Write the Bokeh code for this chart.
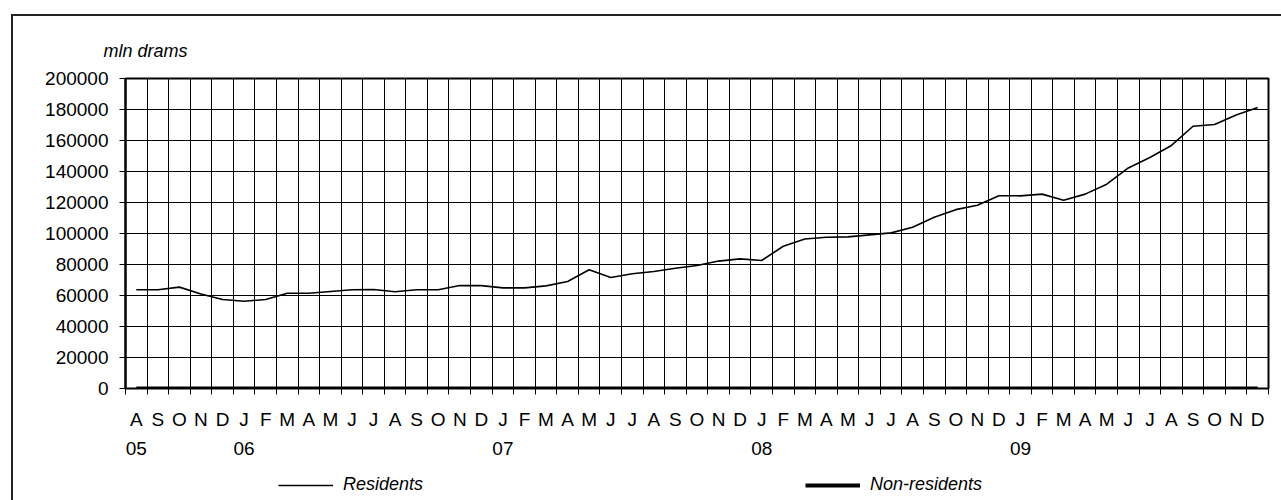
from bokeh.plotting import figure
from bokeh.layouts import column
from bokeh.models import (Range1d, FixedTicker, LinearAxis, Legend, LegendItem,
                          Title, Grid, PrintfTickFormatter)
from bokeh.embed import file_html
from bokeh.resources import INLINE

# ---- data ----
months = ["A", "S", "O", "N", "D",
          "J", "F", "M", "A", "M", "J", "J", "A", "S", "O", "N", "D",
          "J", "F", "M", "A", "M", "J", "J", "A", "S", "O", "N", "D",
          "J", "F", "M", "A", "M", "J", "J", "A", "S", "O", "N", "D",
          "J", "F", "M", "A", "M", "J", "J", "A", "S", "O", "N", "D"]
year_labels = ["05", "06", "07", "08", "09"]
year_start_index = [0, 5, 17, 29, 41]

residents = [63700, 63700, 65400, 61000, 57400,
             56300, 57400, 61500, 61500, 62600, 63700, 63900, 62400, 63700, 63700, 66400, 66400,
             64900, 64900, 66200, 69000, 76600, 71600, 74000, 75500, 77600, 79400, 82200, 83600,
             82600, 91800, 96500, 97600, 97800, 99100, 100400, 104000, 110500, 115400, 118200, 124400,
             124300, 125400, 121500, 125400, 131800, 142300, 149000, 156800, 169200, 170300, 176500, 181300]
non_residents = [0, 0, 0, 0, 0,
                 0, 0, 0, 0, 0, 0, 0, 0, 0, 0, 0, 0,
                 0, 0, 0, 0, 0, 0, 0, 0, 0, 0, 0, 0,
                 0, 0, 0, 0, 0, 0, 0, 0, 0, 0, 0, 0,
                 0, 0, 0, 0, 0, 0, 0, 0, 0, 0, 0, 0]
y_ticks = [0, 20000, 40000, 60000, 80000, 100000, 120000, 140000, 160000, 180000, 200000]
series_names = ["Residents", "Non-residents"]

n = len(months)
xs = [i + 0.5 for i in range(n)]

FONT = "Liberation Sans"
TICK_FS = "19px"
RES_STYLE = dict(line_color="black", line_width=1.6)
NONRES_STYLE = dict(line_color="black", line_width=4)

p = figure(width=1268, height=444, output_backend="svg", toolbar_location=None,
           x_range=Range1d(0, n), y_range=Range1d(0, 200000),
           min_border_left=112, min_border_right=13, min_border_top=62, min_border_bottom=72,
           x_axis_type=None, y_axis_type=None)
p.background_fill_color = "white"
p.border_fill_color = "white"
p.outline_line_color = "black"
p.outline_line_width = 2

# y axis
yax = LinearAxis(ticker=FixedTicker(ticks=y_ticks), formatter=PrintfTickFormatter(format="%d"))
yax.major_tick_out = 6
yax.major_tick_in = 0
yax.minor_tick_out = 0
yax.axis_line_width = 2
yax.axis_line_color = "black"
yax.major_tick_line_color = "black"
yax.major_label_standoff = 11
yax.major_label_text_font = FONT
yax.major_label_text_font_size = TICK_FS
yax.major_label_text_color = "black"
p.add_layout(yax, "left")

# month axis: labels at category centres, tick marks at boundaries
mticker = FixedTicker(ticks=xs, minor_ticks=list(range(n + 1)))
max_ = LinearAxis(ticker=mticker)
max_.major_label_overrides = {x: m for x, m in zip(xs, months)}
max_.major_tick_out = 0
max_.major_tick_in = 0
max_.minor_tick_out = 6
max_.minor_tick_in = 0
max_.minor_tick_line_color = "black"
max_.axis_line_color = "black"
max_.major_label_standoff = 14
max_.major_label_text_font = FONT
max_.major_label_text_font_size = TICK_FS
max_.major_label_text_color = "black"
p.add_layout(max_, "below")

# year axis
yticks = [xs[i] for i in year_start_index]
yrax = LinearAxis(ticker=FixedTicker(ticks=yticks))
yrax.major_label_overrides = {x: y for x, y in zip(yticks, year_labels)}
yrax.axis_line_color = None
yrax.major_tick_line_color = None
yrax.minor_tick_line_color = None
yrax.major_label_standoff = 3
yrax.major_label_text_font = FONT
yrax.major_label_text_font_size = TICK_FS
yrax.major_label_text_color = "black"
p.add_layout(yrax, "below")

# grids
p.add_layout(Grid(dimension=0, ticker=FixedTicker(ticks=list(range(n + 1))),
                  grid_line_color="black", grid_line_width=1))
p.add_layout(Grid(dimension=1, ticker=FixedTicker(ticks=y_ticks),
                  grid_line_color="black", grid_line_width=1))

p.line(xs, residents, **RES_STYLE)
p.line(xs, non_residents, **NONRES_STYLE)

# title
p.add_layout(Title(text="mln drams", text_font=FONT, text_font_size="18px",
                   text_font_style="italic", text_color="black", align="left",
                   offset=-22, standoff=35), "above")

# legend strip (separate small figure so the legend is not clipped);
# the series are drawn there too, but fall outside its visible range
lg = figure(width=1268, height=40, output_backend="svg", toolbar_location=None,
            x_range=Range1d(0, 1), y_range=Range1d(-2, -1),
            min_border_left=0, min_border_right=0, min_border_top=0, min_border_bottom=0,
            x_axis_type=None, y_axis_type=None)
lg.outline_line_color = None
lg.background_fill_color = "white"
lg.border_fill_color = "white"
lr1 = lg.line(xs, residents, **RES_STYLE)
lr2 = lg.line(xs, non_residents, **NONRES_STYLE)
legend = Legend(items=[LegendItem(label=series_names[0], renderers=[lr1]),
                       LegendItem(label=series_names[1], renderers=[lr2])],
                orientation="horizontal", location=(153, 5),
                glyph_width=55, glyph_height=20, label_standoff=10, spacing=382,
                padding=0, margin=0, border_line_color=None,
                background_fill_alpha=0,
                label_text_font=FONT, label_text_font_size="18px",
                label_text_font_style="italic", label_text_color="black")
lg.add_layout(legend)

layout = column(p, lg, spacing=0)
layout.margin = (14, 0, 0, 11)
layout.styles = {"border-left": "2px solid #222222", "border-top": "2px solid #222222"}

open("out.html", "w").write(file_html(layout, INLINE))
